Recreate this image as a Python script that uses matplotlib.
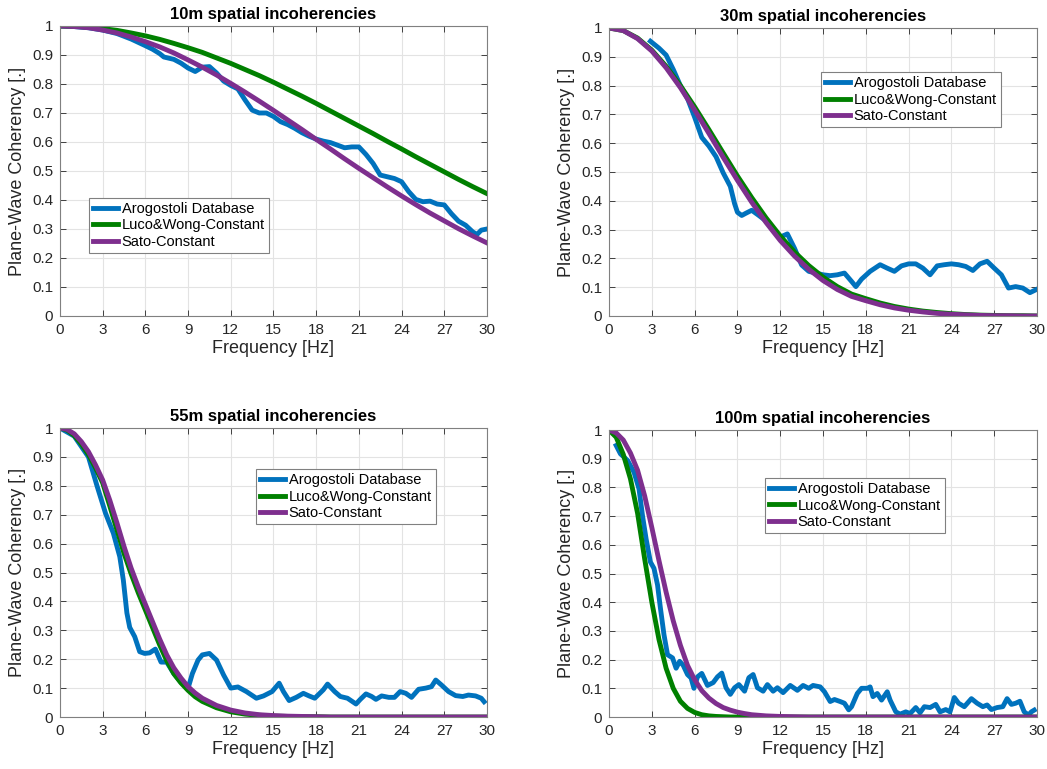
import matplotlib.pyplot as plt

plt.rcParams['font.family'] = ['Liberation Sans', 'DejaVu Sans']

# frequency grids for the model curves
f_model_a = list(range(0, 31))
f_model_b = [0, 0.5, 1, 1.5, 2, 2.5, 3, 3.5, 4, 4.5, 5, 5.5, 6, 6.5, 7, 7.5, 8, 8.5, 9, 9.5, 10] + list(range(11, 31))

# ---- 10m ----
b10_f = [0, 1, 2, 3, 4, 5, 6, 6.5, 7, 7.3, 8, 8.5, 9, 9.5, 10, 10.5, 11, 11.5, 12, 12.5, 13, 13.5, 14, 14.5, 15,
         15.5, 16, 16.5, 17, 17.5, 18, 18.5, 19, 19.5, 20, 20.5, 21, 21.5, 22, 22.5, 23, 23.5, 24, 24.5, 25,
         25.5, 26, 26.5, 27, 27.5, 28, 28.5, 29, 29.3, 29.6, 30]
b10_y = [1.0, 0.998, 0.994, 0.986, 0.974, 0.955, 0.932, 0.92, 0.905, 0.893, 0.885, 0.872, 0.855, 0.843, 0.858,
         0.86, 0.838, 0.81, 0.795, 0.783, 0.745, 0.71, 0.70, 0.70, 0.688, 0.67, 0.66, 0.647, 0.632, 0.62,
         0.61, 0.603, 0.598, 0.589, 0.58, 0.583, 0.583, 0.557, 0.526, 0.486, 0.48, 0.474, 0.463, 0.429, 0.402,
         0.394, 0.396, 0.386, 0.383, 0.353, 0.327, 0.313, 0.29, 0.281, 0.296, 0.30]
lw10 = [1.0, 0.999, 0.996, 0.991, 0.985, 0.976, 0.966, 0.954, 0.940, 0.925, 0.909, 0.890, 0.871, 0.850, 0.829,
        0.806, 0.782, 0.758, 0.733, 0.707, 0.681, 0.655, 0.629, 0.602, 0.576, 0.549, 0.523, 0.497, 0.471,
        0.446, 0.422]
sato10 = [1.0, 0.998, 0.994, 0.986, 0.976, 0.962, 0.946, 0.928, 0.907, 0.883, 0.858, 0.831, 0.802, 0.772, 0.741,
          0.709, 0.676, 0.643, 0.609, 0.576, 0.542, 0.509, 0.477, 0.445, 0.414, 0.384, 0.355, 0.328, 0.301,
          0.276, 0.252]

# ---- 30m ----
b30_f = [2.9, 3.5, 4, 4.5, 5, 5.5, 6, 6.5, 7, 7.5, 8, 8.5, 8.8, 9, 9.3, 9.6, 10, 10.5, 11, 11.5, 12, 12.5, 13,
         13.5, 14, 14.5, 15, 15.5, 16, 16.5, 17, 17.3, 17.7, 18.3, 19, 19.5, 20, 20.5, 21, 21.5, 22, 22.5, 23,
         23.5, 24, 24.5, 25, 25.5, 26, 26.5, 27, 27.5, 28, 28.5, 29, 29.5, 30]
b30_y = [0.954, 0.93, 0.906, 0.856, 0.80, 0.755, 0.69, 0.62, 0.59, 0.553, 0.497, 0.45, 0.39, 0.36, 0.349, 0.357,
         0.367, 0.349, 0.33, 0.30, 0.274, 0.285, 0.235, 0.177, 0.155, 0.149, 0.143, 0.14, 0.143, 0.149, 0.12,
         0.102, 0.128, 0.155, 0.178, 0.166, 0.155, 0.174, 0.181, 0.181, 0.166, 0.143, 0.174, 0.178, 0.181,
         0.178, 0.172, 0.158, 0.181, 0.19, 0.166, 0.143, 0.097, 0.102, 0.097, 0.081, 0.093]
lw30 = [1.0, 0.991, 0.965, 0.923, 0.867, 0.800, 0.726, 0.647, 0.566, 0.486, 0.411, 0.341, 0.278, 0.222, 0.175,
        0.135, 0.102, 0.076, 0.060, 0.045, 0.033, 0.024, 0.017, 0.012, 0.008, 0.005, 0.003, 0.002, 0.001,
        0.001, 0.0]
sato30 = [1.0, 0.991, 0.963, 0.920, 0.862, 0.793, 0.715, 0.634, 0.551, 0.471, 0.395, 0.325, 0.262, 0.208, 0.162,
          0.123, 0.092, 0.068, 0.053, 0.039, 0.028, 0.020, 0.014, 0.009, 0.006, 0.004, 0.002, 0.001, 0.001,
          0.0, 0.0]

# ---- 55m ----
b55_f = [0, 1, 2, 2.6, 3.2, 3.75, 4.2, 4.45, 4.7, 4.9, 5.25, 5.6, 5.95, 6.3, 6.7, 7.1, 7.5, 8, 8.5, 9, 9.3, 9.7,
         10, 10.5, 11, 11.5, 12, 12.5, 13.1, 13.8, 14.3, 14.9, 15.4, 15.7, 16.1, 16.6, 17.1, 17.5, 17.9, 18.5,
         18.8, 19.3, 19.7, 20.2, 20.8, 21.1, 21.5, 21.9, 22.2, 22.6, 23.1, 23.5, 23.9, 24.3, 24.7, 25.2, 25.7,
         26.1, 26.4, 26.8, 27.3, 27.8, 28.3, 28.7, 29.2, 29.6, 29.8]
b55_y = [1.0, 0.972, 0.90, 0.80, 0.705, 0.636, 0.555, 0.474, 0.36, 0.31, 0.278, 0.226, 0.22, 0.222, 0.235, 0.19,
         0.19, 0.15, 0.12, 0.10, 0.15, 0.197, 0.215, 0.22, 0.197, 0.145, 0.10, 0.104, 0.088, 0.065,
         0.073, 0.088, 0.117, 0.088, 0.057, 0.068, 0.082, 0.073, 0.065, 0.094, 0.114, 0.088, 0.071, 0.065,
         0.045, 0.061, 0.08, 0.071, 0.061, 0.073, 0.068, 0.068, 0.088, 0.082, 0.068, 0.096, 0.10, 0.105,
         0.128, 0.111, 0.088, 0.074, 0.071, 0.076, 0.073, 0.065, 0.053]
lw55 = [1.0, 0.993, 0.974, 0.945, 0.908, 0.862, 0.81, 0.73, 0.648, 0.566, 0.495, 0.43, 0.37, 0.31, 0.25, 0.195,
        0.15, 0.118, 0.092, 0.07, 0.054, 0.032, 0.018, 0.010, 0.006, 0.003, 0.002, 0.001, 0.001, 0.0, 0.0,
        0.0, 0.0, 0.0, 0.0, 0.0, 0.0, 0.0, 0.0, 0.0, 0.0]
sato55 = [1.0, 0.995, 0.98, 0.953, 0.918, 0.872, 0.82, 0.75, 0.672, 0.59, 0.515, 0.45, 0.39, 0.33, 0.27, 0.215,
          0.17, 0.135, 0.105, 0.083, 0.065, 0.04, 0.024, 0.014, 0.008, 0.005, 0.003, 0.002, 0.001, 0.0, 0.0,
          0.0, 0.0, 0.0, 0.0, 0.0, 0.0, 0.0, 0.0, 0.0, 0.0]

# ---- 100m ----
b100_f = [0.5, 0.8, 1.3, 1.75, 2.1, 2.35, 2.6, 2.9, 3.15, 3.4, 3.6, 3.85, 4.1, 4.45, 4.7, 4.95, 5.2, 5.5, 5.75,
          5.95, 6.2, 6.5, 6.9, 7.3, 7.6, 7.9, 8.2, 8.5, 8.8, 9.1, 9.5, 9.8, 10.1, 10.4, 10.8, 11.1,
          11.5, 11.8, 12.2, 12.7, 13.2, 13.6, 14.0, 14.3, 14.8, 15.1, 15.5, 15.8, 16.2, 16.5, 16.8, 17.0, 17.4,
          17.7, 18.1, 18.3, 18.5, 18.8, 19.1, 19.5, 19.7, 20.1, 20.4, 20.8, 21.1, 21.5, 21.8, 22.1, 22.5, 22.9,
          23.2, 23.6, 23.9, 24.2, 24.5, 24.9, 25.4, 25.8, 26.2, 26.5, 26.8, 27.2, 27.6, 27.9, 28.2, 28.5, 28.8,
          29.1, 29.4, 29.6, 29.8]
b100_y = [0.946, 0.917, 0.894, 0.853, 0.795, 0.70, 0.62, 0.54, 0.518, 0.46, 0.38, 0.287, 0.217, 0.206, 0.17,
          0.194, 0.18, 0.148, 0.136, 0.10, 0.14, 0.152, 0.11, 0.12, 0.14, 0.153, 0.102,
          0.079, 0.102, 0.113, 0.09, 0.137, 0.148, 0.102, 0.09, 0.113, 0.09, 0.102, 0.085, 0.11, 0.093, 0.11,
          0.10, 0.11, 0.105, 0.088, 0.054, 0.061, 0.054, 0.048, 0.025, 0.036, 0.082, 0.10, 0.10, 0.105, 0.071,
          0.082, 0.059, 0.088, 0.059, 0.018, 0.01, 0.018, 0.012, 0.033, 0.015, 0.036, 0.033, 0.044, 0.018,
          0.026, 0.018, 0.068, 0.048, 0.036, 0.064, 0.048, 0.036, 0.042, 0.026, 0.033, 0.036, 0.064, 0.044,
          0.048, 0.055, 0.018, 0.007, 0.018, 0.024]
lw100 = [1.0, 0.975, 0.915, 0.83, 0.71, 0.55, 0.40, 0.27, 0.17, 0.10, 0.055, 0.03, 0.016, 0.008, 0.004, 0.002,
         0.001, 0.0, 0.0, 0.0, 0.0, 0.0, 0.0, 0.0, 0.0, 0.0, 0.0, 0.0, 0.0, 0.0, 0.0, 0.0, 0.0, 0.0, 0.0,
         0.0, 0.0, 0.0, 0.0, 0.0, 0.0]
sato100 = [1.0, 0.99, 0.965, 0.92, 0.86, 0.77, 0.66, 0.545, 0.435, 0.335, 0.25, 0.18, 0.13, 0.092, 0.066,
           0.047, 0.033, 0.024, 0.017, 0.012, 0.008, 0.004, 0.002, 0.001, 0.0, 0.0, 0.0, 0.0, 0.0, 0.0, 0.0,
           0.0, 0.0, 0.0, 0.0, 0.0, 0.0, 0.0, 0.0, 0.0, 0.0]

titles = ["10m spatial incoherencies", "30m spatial incoherencies",
          "55m spatial incoherencies", "100m spatial incoherencies"]
labels = ["Arogostoli Database", "Luco&Wong-Constant", "Sato-Constant"]

BLUE = "#0072BD"
GREEN = "#008000"
PURPLE = "#7E2F8E"

panels = [
    ([0.0573, 0.5891, 0.4078, 0.3771], b10_f, b10_y, f_model_a, lw10, sato10, ("lower left", (0.068, 0.217))),
    ([0.5817, 0.5891, 0.4088, 0.3745], b30_f, b30_y, f_model_a, lw30, sato30, ("upper left", (0.495, 0.847))),
    ([0.0573, 0.0676, 0.4078, 0.3758], b55_f, b55_y, f_model_b, lw55, sato55, ("upper left", (0.459, 0.858))),
    ([0.5817, 0.0676, 0.4088, 0.3732], b100_f, b100_y, f_model_b, lw100, sato100, ("upper left", (0.364, 0.833))),
]

fig = plt.figure(figsize=(10.47, 7.69), dpi=100)

for i, (pos, bf, by, fm, lw, sato, leg) in enumerate(panels):
    ax = fig.add_axes(pos)
    ax.plot(bf, by, color=BLUE, lw=3.5, label=labels[0])
    ax.plot(fm, lw, color=GREEN, lw=3.5, label=labels[1])
    ax.plot(fm, sato, color=PURPLE, lw=3.5, label=labels[2])
    ax.set_xlim(0, 30)
    ax.set_ylim(0, 1)
    ax.set_xticks(range(0, 31, 3))
    ax.set_yticks([k / 10 for k in range(11)])
    ax.set_yticklabels(["0", "0.1", "0.2", "0.3", "0.4", "0.5", "0.6", "0.7", "0.8", "0.9", "1"])
    ax.tick_params(direction="in", top=True, right=True, labelsize=11, colors="#262626",
                   length=4, width=0.6, pad=5)
    for sp in ax.spines.values():
        sp.set_color("#808080")
        sp.set_linewidth(0.8)
    ax.grid(True, color="#e3e3e3", lw=0.8)
    ax.set_axisbelow(True)
    ax.set_title(titles[i], fontsize=12, fontweight="bold", pad=5)
    ax.set_xlabel("Frequency [Hz]", fontsize=13, color="#262626", labelpad=2)
    ax.set_ylabel("Plane-Wave Coherency [.]", fontsize=13, color="#262626", labelpad=4)
    lg = ax.legend(loc=leg[0], bbox_to_anchor=leg[1], fontsize=10.5, fancybox=False, framealpha=1,
                   edgecolor="#808080", handlelength=1.7, handletextpad=0.25, borderpad=0.3,
                   labelspacing=0.15, borderaxespad=0)
    lg.get_frame().set_linewidth(0.8)

plt.savefig("out.png", dpi=100)
